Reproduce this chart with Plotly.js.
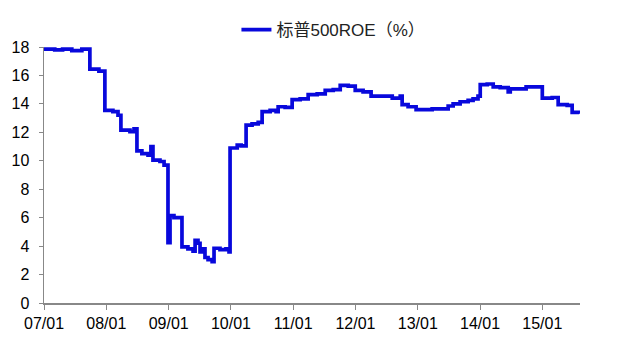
<!DOCTYPE html>
<html>
<head>
<meta charset="utf-8">
<script src="https://cdn.plot.ly/plotly-3.0.1.min.js"></script>
<style>html,body{margin:0;padding:0;background:#fff;}#chart{width:619px;height:345px;}</style>
</head>
<body>
<div id="chart"></div>
<script>
const seriesName = "标普500ROE（%）";
const dates = [
"2007-01-01","2007-03-05","2007-04-20","2007-06-13","2007-08-11","2007-09-27","2007-11-19","2007-12-24",
"2008-02-09","2008-03-10","2008-03-27","2008-05-19","2008-06-12","2008-06-29","2008-07-28","2008-09-02",
"2008-09-19","2008-10-01","2008-11-11","2008-12-05","2008-12-28","2009-01-09","2009-02-01","2009-03-20",
"2009-04-24","2009-05-24","2009-06-05","2009-06-22","2009-07-04","2009-07-16","2009-08-02","2009-08-20",
"2009-09-13","2009-09-24","2009-10-29","2009-12-03","2009-12-21","2009-12-27","2010-02-07","2010-03-02",
"2010-03-31","2010-05-05","2010-06-10","2010-07-03","2010-08-19","2010-09-23","2010-10-05","2010-11-15",
"2010-12-26","2011-02-11","2011-03-30","2011-05-22","2011-07-08","2011-08-24","2011-10-04","2011-11-20",
"2011-12-31","2012-02-15","2012-04-02","2012-06-23","2012-08-04","2012-09-20","2012-10-01","2012-11-05",
"2012-12-22","2013-03-26","2013-06-28","2013-07-27","2013-09-06","2013-10-23","2013-11-21","2013-12-20",
"2014-01-02","2014-02-12","2014-03-19","2014-04-29","2014-06-15","2014-06-27","2014-08-24","2014-09-28",
"2014-11-20","2015-01-01","2015-02-28","2015-04-04","2015-05-27","2015-06-25","2015-08-05"
];
const roe = [
17.85,17.8,17.85,17.75,17.85,16.45,16.3,13.55,
13.45,13.2,12.15,12.05,12.25,10.7,10.5,10.4,
11.0,10.05,9.95,9.7,4.25,6.15,6.0,3.95,
3.8,3.65,4.4,4.2,3.6,3.8,3.2,3.05,
2.9,3.85,3.75,3.8,3.6,10.9,11.1,11.05,
12.5,12.6,12.7,13.45,13.55,13.45,13.8,13.75,
14.3,14.35,14.65,14.7,14.95,15.0,15.3,15.25,
14.95,14.85,14.55,14.55,14.4,14.55,13.95,13.8,
13.6,13.65,13.85,14.0,14.15,14.25,14.35,14.55,
15.35,15.4,15.2,15.15,14.85,15.05,15.05,15.2,
15.2,14.4,14.45,13.95,13.9,13.4,13.3
];
const yTicks = [0,2,4,6,8,10,12,14,16,18];

const trace = {
  x: dates, y: roe, type: "scatter", mode: "lines", name: seriesName,
  line: {color: "rgb(8,8,220)", width: 3.7, shape: "hv"}
};
const layout = {
  width: 619, height: 345,
  margin: {l: 44, r: 39, t: 39, b: 42},
  paper_bgcolor: "#fff", plot_bgcolor: "#fff",
  font: {family: "Liberation Sans, Arial, sans-serif", size: 16, color: "#000"},
  showlegend: true,
  legend: {orientation: "h", x: 0.54, xanchor: "center", y: 1.066, yanchor: "middle",
           font: {family: "Liberation Sans, Noto Sans CJK SC, sans-serif", size: 17, color: "#222"}},
  xaxis: {
    type: "date", range: ["2007-01-01", "2015-08-10"],
    tick0: "2007-01-01", dtick: "M12", tickformat: "%y/%m",
    showgrid: false, zeroline: false, showline: true, linecolor: "#888", linewidth: 1.5,
    ticks: "outside", ticklen: 5, tickcolor: "#888",
    tickfont: {size: 16, color: "#000"}
  },
  yaxis: {
    range: [0, 18], tickvals: yTicks, ticktext: yTicks.map(String),
    showgrid: false, zeroline: false, showline: true, linecolor: "#888", linewidth: 1.5,
    ticks: "outside", ticklen: 4, tickcolor: "#888", ticklabelstandoff: 6,
    tickfont: {size: 16, color: "#000"}
  }
};
Plotly.newPlot("chart", [trace], layout, {displayModeBar: false, staticPlot: true});
</script>
</body>
</html>
